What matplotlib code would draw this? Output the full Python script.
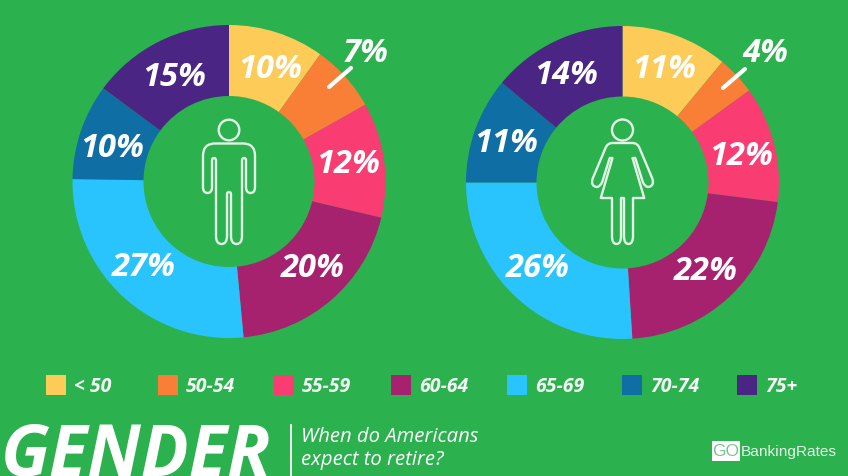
import matplotlib
matplotlib.use("Agg")
import matplotlib.pyplot as plt
from matplotlib.patches import Rectangle, Circle, PathPatch
from matplotlib.path import Path

W, H = 848, 477
BG = "#2BB14D"

age_groups = ["< 50", "50-54", "55-59", "60-64", "65-69", "70-74", "75+"]
men_values = [10, 7, 12, 20, 27, 10, 15]
women_values = [11, 4, 12, 22, 26, 11, 14]
men_labels = ["10%", "7%", "12%", "20%", "27%", "10%", "15%"]
women_labels = ["11%", "4%", "12%", "22%", "26%", "11%", "14%"]
colors = ["#FDCB58", "#F97F36", "#F93D73", "#A6226F", "#29C4FD", "#0F6FA4", "#4B2583"]

men_label_xy = [(270, 69), (366, 53), (348, 165), (313, 269), (144, 268), (112, 149), (174, 78)]
women_label_xy = [(664, 69), (765, 54), (741, 157), (706, 272), (538, 269), (506, 144), (566, 75)]
legend_x = [46, 158, 274, 391, 507, 622, 737]

FONT = "Open Sans"
ICON = "#E4F6E8"
fig = plt.figure(figsize=(W / 100, H / 100), dpi=100, facecolor=BG)


def donut(cx, cy, R, r, values):
    ax = fig.add_axes([(cx - R) / W, 1 - (cy + R) / H, 2 * R / W, 2 * R / H])
    ax.pie(values, colors=colors, startangle=90, counterclock=False, radius=1,
           wedgeprops=dict(width=(R - r) / R, linewidth=0))
    ax.set_xlim(-1, 1)
    ax.set_ylim(-1, 1)
    ax.set_aspect("equal")
    ax.axis("off")


donut(229, 182.5, 156.5, 85.5, men_values)
donut(622.5, 183.5, 156.5, 86, women_values)

ov = fig.add_axes([0, 0, 1, 1], facecolor="none")
ov.set_xlim(0, W)
ov.set_ylim(H, 0)
ov.axis("off")


def label(x, y, s, size=23.5):
    ov.text(x, y, s, color="white", fontsize=size, fontfamily=FONT, fontweight="bold",
            fontstyle="italic", ha="center", va="center")


for (x, y), s in zip(men_label_xy, men_labels):
    label(x, y, s)
for (x, y), s in zip(women_label_xy, women_labels):
    label(x, y, s)

# leader ticks
ov.plot([329, 351], [88, 69], color="white", lw=3.0, solid_capstyle="round")
ov.plot([723, 745], [89, 70], color="white", lw=3.0, solid_capstyle="round")

# legend
for x, g, c in zip(legend_x, age_groups, colors):
    ov.add_patch(Rectangle((x, 376), 20, 20, color=c, lw=0))
    ov.text(x + 28, 387, g, color="white", fontsize=14, fontfamily=FONT, fontweight="bold",
            fontstyle="italic", va="center", ha="left", alpha=0.95)

# footer
ov.text(1, 475.5, "GENDER", color="white", fontsize=51, fontfamily=FONT, fontweight="bold",
        fontstyle="italic", va="baseline", ha="left")
ov.plot([291, 291], [426, 477], color="white", lw=1.3)
ov.text(301, 437, "When do Americans", color="white", fontsize=14.6, fontfamily=FONT,
        fontstyle="italic", va="center", ha="left")
ov.text(301, 460, "expect to retire?", color="white", fontsize=14.6, fontfamily=FONT,
        fontstyle="italic", va="center", ha="left")
ov.add_patch(Rectangle((712, 442), 28, 20, color="white", lw=0))
ov.text(726, 452, "GO", color="#7FBF93", fontsize=12.5, fontfamily="Liberation Sans",
        va="center", ha="center")
ov.text(741, 452, "BankingRates", color="#E6F5EA", fontsize=11.1, fontfamily="Liberation Sans",
        va="center", ha="left")


# icons: outline given as its right half, then mirrored about the vertical axis
def figure_icon(cx, start, segs, head_y, head_r):
    pts = [start]
    for s in segs:
        pts.append(s[-1])
    verts = [(cx + start[0], start[1])]
    codes = [Path.MOVETO]

    def add(seg, sign):
        for p in seg:
            verts.append((cx + sign * p[0], p[1]))
        codes.extend([Path.LINETO] if len(seg) == 1 else [Path.CURVE3, Path.CURVE3])

    for s in segs:
        add(s, 1)
    for i in range(len(segs) - 1, -1, -1):
        s = segs[i]
        add(((pts[i],) if len(s) == 1 else (s[0], pts[i])), -1)
    ov.add_patch(PathPatch(Path(verts, codes), fc="none", ec=ICON, lw=1.7, joinstyle="round"))
    ov.add_patch(Circle((cx, head_y), head_r, fc="none", ec=ICON, lw=1.7))


man = [((14, 144.5),), ((26, 144.5), (26, 157)), ((26, 188),), ((26, 194), (21.5, 194)),
       ((17, 194), (17, 188)), ((17, 161),), ((17, 159), (15, 159)), ((13, 159), (13, 161)),
       ((13, 237),), ((13, 245), (7.5, 245)), ((2, 245), (2, 237)), ((2, 195),),
       ((2, 193), (0, 193))]
figure_icon(229, (0, 144.5), man, 131, 10.3)

woman = [((10, 144),), ((15, 144), (17, 149)), ((30, 180),), ((32, 187), (26, 188)),
         ((22.5, 188), (20.3, 183)), ((12.8, 159),), ((10, 159),), ((21.7, 199),), ((10.5, 199),),
         ((10.5, 237),), ((10.5, 245), (6, 245)), ((1.5, 245), (1.5, 237)), ((1.5, 199),),
         ((0, 199),)]
figure_icon(622.5, (0, 144), woman, 131, 10.5)

fig.savefig("out.png", dpi=100, facecolor=BG)
